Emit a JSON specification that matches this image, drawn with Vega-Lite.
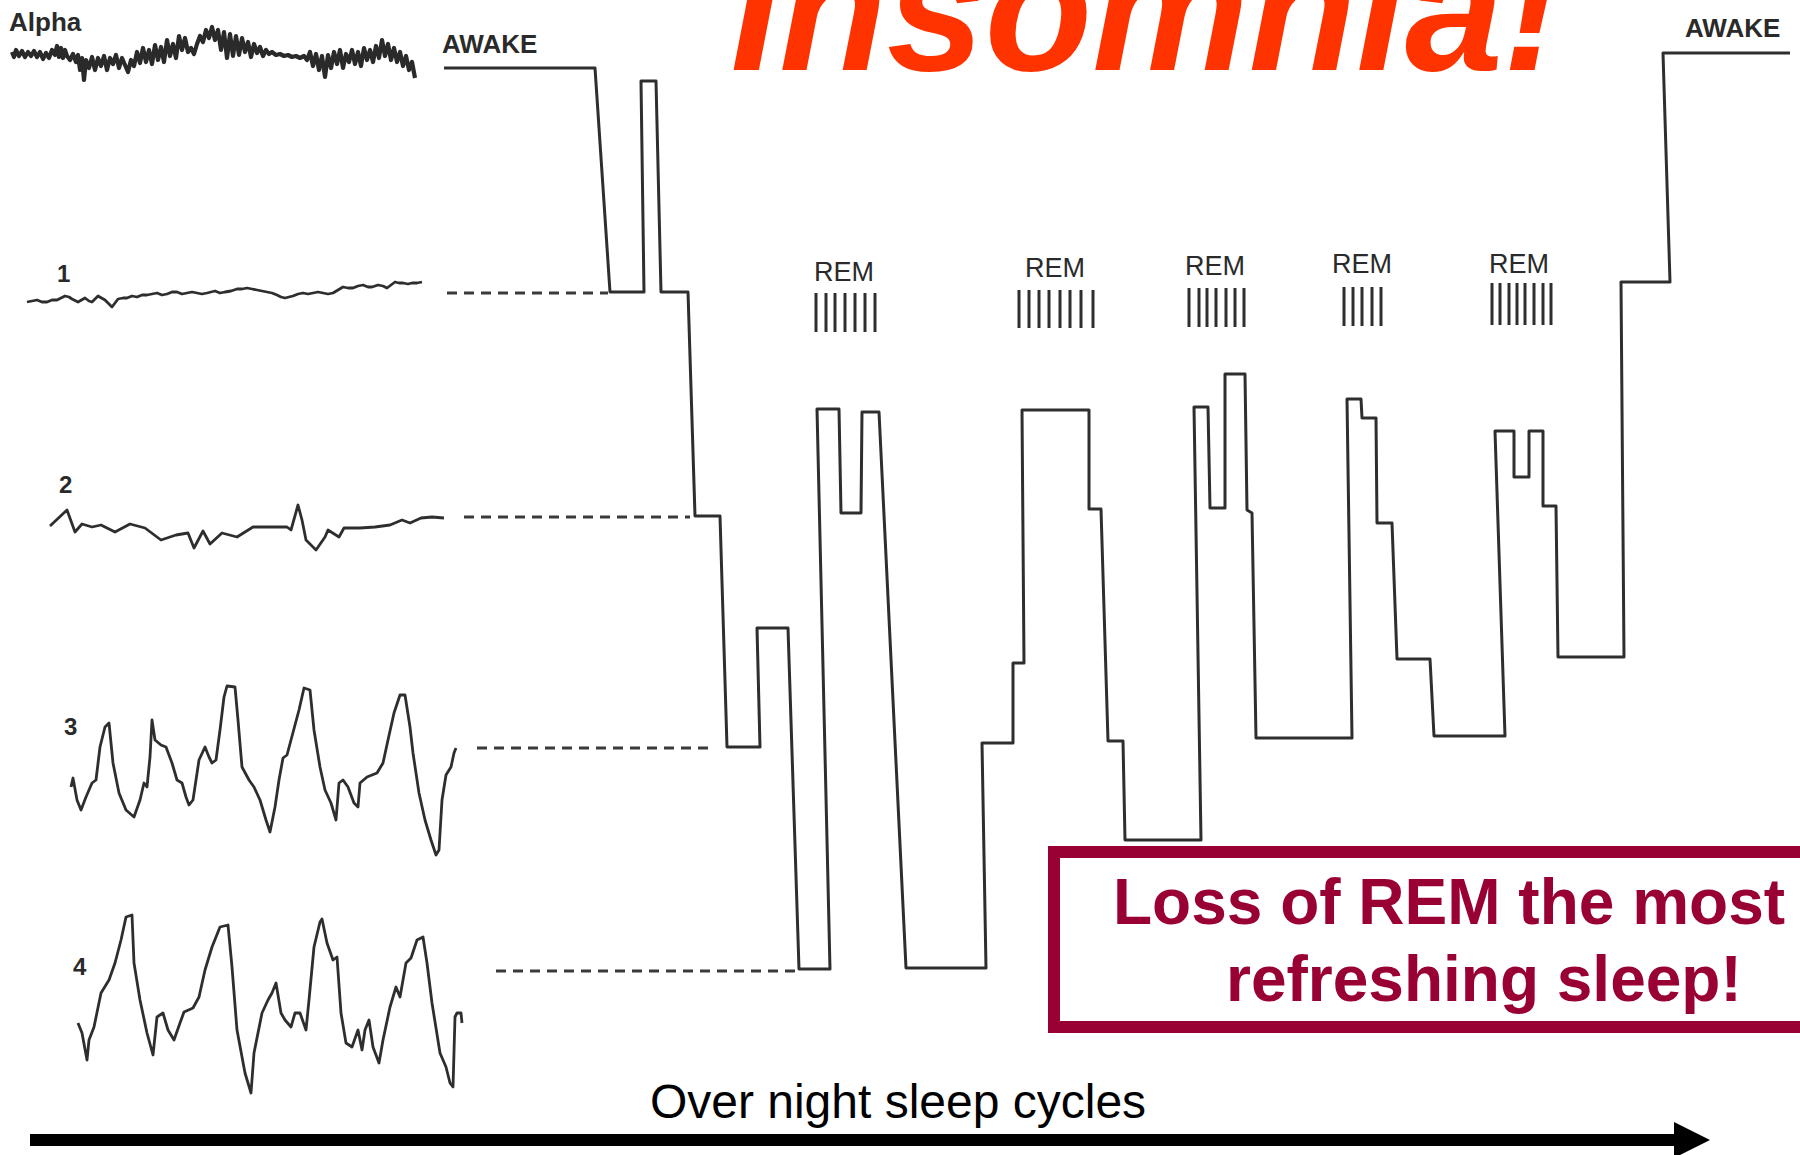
{
  "$schema": "https://vega.github.io/schema/vega-lite/v6.json",
  "width": 1800,
  "height": 1155,
  "autosize": {"type": "none"},
  "padding": 0,
  "background": "white",
  "config": {"view": {"stroke": null}},
  "encoding": {
    "x": {"field": "x", "type": "quantitative", "scale": {"domain": [0, 1800], "nice": false, "zero": false}, "axis": null},
    "y": {"field": "y", "type": "quantitative", "scale": {"domain": [0, 1155], "nice": false, "zero": false, "reverse": true}, "axis": null}
  },
  "layer": [
    {
      "data": {"values": [
        {"t": "Alpha", "x": 12, "y": 52}, {"t": "Alpha", "x": 14, "y": 57}, {"t": "Alpha", "x": 16, "y": 50}, {"t": "Alpha", "x": 19, "y": 56}, {"t": "Alpha", "x": 22, "y": 51}, {"t": "Alpha", "x": 25, "y": 57}, {"t": "Alpha", "x": 28, "y": 52}, {"t": "Alpha", "x": 31, "y": 56}, {"t": "Alpha", "x": 34, "y": 51}, {"t": "Alpha", "x": 37, "y": 57}, {"t": "Alpha", "x": 40, "y": 52}, {"t": "Alpha", "x": 43, "y": 59}, {"t": "Alpha", "x": 46, "y": 53}, {"t": "Alpha", "x": 49, "y": 58}, {"t": "Alpha", "x": 52, "y": 50}, {"t": "Alpha", "x": 55, "y": 55}, {"t": "Alpha", "x": 57, "y": 46}, {"t": "Alpha", "x": 59, "y": 57}, {"t": "Alpha", "x": 61, "y": 48}, {"t": "Alpha", "x": 63, "y": 58}, {"t": "Alpha", "x": 65, "y": 50}, {"t": "Alpha", "x": 67, "y": 56}, {"t": "Alpha", "x": 70, "y": 60}, {"t": "Alpha", "x": 73, "y": 54}, {"t": "Alpha", "x": 76, "y": 62}, {"t": "Alpha", "x": 78, "y": 55}, {"t": "Alpha", "x": 80, "y": 70}, {"t": "Alpha", "x": 82, "y": 58}, {"t": "Alpha", "x": 84, "y": 80}, {"t": "Alpha", "x": 86, "y": 60}, {"t": "Alpha", "x": 89, "y": 68}, {"t": "Alpha", "x": 92, "y": 57}, {"t": "Alpha", "x": 95, "y": 70}, {"t": "Alpha", "x": 98, "y": 58}, {"t": "Alpha", "x": 101, "y": 66}, {"t": "Alpha", "x": 104, "y": 56}, {"t": "Alpha", "x": 107, "y": 70}, {"t": "Alpha", "x": 110, "y": 58}, {"t": "Alpha", "x": 113, "y": 64}, {"t": "Alpha", "x": 116, "y": 55}, {"t": "Alpha", "x": 119, "y": 68}, {"t": "Alpha", "x": 122, "y": 58}, {"t": "Alpha", "x": 125, "y": 65}, {"t": "Alpha", "x": 128, "y": 72}, {"t": "Alpha", "x": 131, "y": 60}, {"t": "Alpha", "x": 134, "y": 66}, {"t": "Alpha", "x": 137, "y": 52}, {"t": "Alpha", "x": 140, "y": 63}, {"t": "Alpha", "x": 143, "y": 48}, {"t": "Alpha", "x": 146, "y": 62}, {"t": "Alpha", "x": 149, "y": 50}, {"t": "Alpha", "x": 152, "y": 64}, {"t": "Alpha", "x": 155, "y": 45}, {"t": "Alpha", "x": 158, "y": 60}, {"t": "Alpha", "x": 161, "y": 47}, {"t": "Alpha", "x": 164, "y": 62}, {"t": "Alpha", "x": 167, "y": 40}, {"t": "Alpha", "x": 170, "y": 56}, {"t": "Alpha", "x": 173, "y": 44}, {"t": "Alpha", "x": 176, "y": 58}, {"t": "Alpha", "x": 179, "y": 36}, {"t": "Alpha", "x": 182, "y": 50}, {"t": "Alpha", "x": 185, "y": 38}, {"t": "Alpha", "x": 188, "y": 52}, {"t": "Alpha", "x": 191, "y": 48}, {"t": "Alpha", "x": 194, "y": 54}, {"t": "Alpha", "x": 197, "y": 44}, {"t": "Alpha", "x": 200, "y": 36}, {"t": "Alpha", "x": 203, "y": 42}, {"t": "Alpha", "x": 206, "y": 30}, {"t": "Alpha", "x": 209, "y": 38}, {"t": "Alpha", "x": 212, "y": 27}, {"t": "Alpha", "x": 215, "y": 40}, {"t": "Alpha", "x": 218, "y": 30}, {"t": "Alpha", "x": 221, "y": 50}, {"t": "Alpha", "x": 224, "y": 32}, {"t": "Alpha", "x": 227, "y": 58}, {"t": "Alpha", "x": 230, "y": 34}, {"t": "Alpha", "x": 233, "y": 56}, {"t": "Alpha", "x": 236, "y": 36}, {"t": "Alpha", "x": 239, "y": 55}, {"t": "Alpha", "x": 242, "y": 38}, {"t": "Alpha", "x": 245, "y": 52}, {"t": "Alpha", "x": 248, "y": 42}, {"t": "Alpha", "x": 251, "y": 57}, {"t": "Alpha", "x": 254, "y": 44}, {"t": "Alpha", "x": 257, "y": 53}, {"t": "Alpha", "x": 260, "y": 47}, {"t": "Alpha", "x": 263, "y": 56}, {"t": "Alpha", "x": 266, "y": 50}, {"t": "Alpha", "x": 269, "y": 54}, {"t": "Alpha", "x": 272, "y": 52}, {"t": "Alpha", "x": 276, "y": 55}, {"t": "Alpha", "x": 280, "y": 54}, {"t": "Alpha", "x": 284, "y": 56}, {"t": "Alpha", "x": 288, "y": 55}, {"t": "Alpha", "x": 292, "y": 57}, {"t": "Alpha", "x": 296, "y": 56}, {"t": "Alpha", "x": 300, "y": 58}, {"t": "Alpha", "x": 304, "y": 56}, {"t": "Alpha", "x": 307, "y": 60}, {"t": "Alpha", "x": 310, "y": 52}, {"t": "Alpha", "x": 313, "y": 66}, {"t": "Alpha", "x": 316, "y": 54}, {"t": "Alpha", "x": 319, "y": 70}, {"t": "Alpha", "x": 322, "y": 56}, {"t": "Alpha", "x": 325, "y": 77}, {"t": "Alpha", "x": 328, "y": 55}, {"t": "Alpha", "x": 331, "y": 68}, {"t": "Alpha", "x": 334, "y": 52}, {"t": "Alpha", "x": 337, "y": 64}, {"t": "Alpha", "x": 340, "y": 50}, {"t": "Alpha", "x": 343, "y": 68}, {"t": "Alpha", "x": 346, "y": 54}, {"t": "Alpha", "x": 349, "y": 62}, {"t": "Alpha", "x": 352, "y": 50}, {"t": "Alpha", "x": 355, "y": 64}, {"t": "Alpha", "x": 358, "y": 52}, {"t": "Alpha", "x": 361, "y": 66}, {"t": "Alpha", "x": 364, "y": 48}, {"t": "Alpha", "x": 367, "y": 60}, {"t": "Alpha", "x": 370, "y": 50}, {"t": "Alpha", "x": 373, "y": 62}, {"t": "Alpha", "x": 376, "y": 46}, {"t": "Alpha", "x": 379, "y": 58}, {"t": "Alpha", "x": 382, "y": 40}, {"t": "Alpha", "x": 385, "y": 56}, {"t": "Alpha", "x": 388, "y": 44}, {"t": "Alpha", "x": 391, "y": 60}, {"t": "Alpha", "x": 394, "y": 48}, {"t": "Alpha", "x": 397, "y": 62}, {"t": "Alpha", "x": 400, "y": 52}, {"t": "Alpha", "x": 403, "y": 66}, {"t": "Alpha", "x": 406, "y": 56}, {"t": "Alpha", "x": 409, "y": 70}, {"t": "Alpha", "x": 412, "y": 62}, {"t": "Alpha", "x": 415, "y": 78}
      ]},
      "mark": {"type": "line", "color": "#2a2a2a", "strokeWidth": 4.2, "strokeJoin": "round"},
      "encoding": {"detail": {"field": "t"}}
    },
    {
      "data": {"values": [
        {"t": "1", "x": 27, "y": 302}, {"t": "1", "x": 32, "y": 301}, {"t": "1", "x": 37, "y": 300}, {"t": "1", "x": 42, "y": 302}, {"t": "1", "x": 47, "y": 302}, {"t": "1", "x": 52, "y": 300}, {"t": "1", "x": 57, "y": 300}, {"t": "1", "x": 61, "y": 298}, {"t": "1", "x": 65, "y": 296}, {"t": "1", "x": 69, "y": 297}, {"t": "1", "x": 72, "y": 299}, {"t": "1", "x": 78, "y": 302}, {"t": "1", "x": 85, "y": 298}, {"t": "1", "x": 89, "y": 301}, {"t": "1", "x": 92, "y": 302}, {"t": "1", "x": 98, "y": 296}, {"t": "1", "x": 105, "y": 300}, {"t": "1", "x": 112, "y": 307}, {"t": "1", "x": 118, "y": 299}, {"t": "1", "x": 123, "y": 298}, {"t": "1", "x": 127, "y": 298}, {"t": "1", "x": 132, "y": 296}, {"t": "1", "x": 137, "y": 297}, {"t": "1", "x": 142, "y": 295}, {"t": "1", "x": 147, "y": 295}, {"t": "1", "x": 152, "y": 294}, {"t": "1", "x": 157, "y": 293}, {"t": "1", "x": 162, "y": 295}, {"t": "1", "x": 167, "y": 294}, {"t": "1", "x": 172, "y": 292}, {"t": "1", "x": 177, "y": 292}, {"t": "1", "x": 182, "y": 294}, {"t": "1", "x": 187, "y": 293}, {"t": "1", "x": 192, "y": 292}, {"t": "1", "x": 197, "y": 293}, {"t": "1", "x": 202, "y": 294}, {"t": "1", "x": 207, "y": 293}, {"t": "1", "x": 215, "y": 291}, {"t": "1", "x": 220, "y": 293}, {"t": "1", "x": 225, "y": 292}, {"t": "1", "x": 231, "y": 291}, {"t": "1", "x": 237, "y": 289}, {"t": "1", "x": 242, "y": 289}, {"t": "1", "x": 247, "y": 288}, {"t": "1", "x": 252, "y": 289}, {"t": "1", "x": 257, "y": 290}, {"t": "1", "x": 262, "y": 291}, {"t": "1", "x": 267, "y": 292}, {"t": "1", "x": 272, "y": 293}, {"t": "1", "x": 277, "y": 295}, {"t": "1", "x": 281, "y": 297}, {"t": "1", "x": 285, "y": 298}, {"t": "1", "x": 289, "y": 297}, {"t": "1", "x": 293, "y": 296}, {"t": "1", "x": 298, "y": 294}, {"t": "1", "x": 303, "y": 293}, {"t": "1", "x": 308, "y": 294}, {"t": "1", "x": 313, "y": 293}, {"t": "1", "x": 318, "y": 292}, {"t": "1", "x": 323, "y": 293}, {"t": "1", "x": 328, "y": 294}, {"t": "1", "x": 333, "y": 293}, {"t": "1", "x": 338, "y": 290}, {"t": "1", "x": 343, "y": 287}, {"t": "1", "x": 348, "y": 288}, {"t": "1", "x": 353, "y": 288}, {"t": "1", "x": 358, "y": 286}, {"t": "1", "x": 363, "y": 285}, {"t": "1", "x": 368, "y": 287}, {"t": "1", "x": 372, "y": 287}, {"t": "1", "x": 378, "y": 285}, {"t": "1", "x": 383, "y": 286}, {"t": "1", "x": 387, "y": 288}, {"t": "1", "x": 391, "y": 285}, {"t": "1", "x": 395, "y": 282}, {"t": "1", "x": 399, "y": 283}, {"t": "1", "x": 403, "y": 283}, {"t": "1", "x": 408, "y": 284}, {"t": "1", "x": 412, "y": 283}, {"t": "1", "x": 417, "y": 283}, {"t": "1", "x": 422, "y": 282},
        {"t": "2", "x": 50, "y": 526}, {"t": "2", "x": 67, "y": 510}, {"t": "2", "x": 75, "y": 532}, {"t": "2", "x": 82, "y": 524}, {"t": "2", "x": 92, "y": 527}, {"t": "2", "x": 101, "y": 525}, {"t": "2", "x": 115, "y": 532}, {"t": "2", "x": 130, "y": 524}, {"t": "2", "x": 145, "y": 528}, {"t": "2", "x": 161, "y": 540}, {"t": "2", "x": 176, "y": 535}, {"t": "2", "x": 188, "y": 533}, {"t": "2", "x": 194, "y": 548}, {"t": "2", "x": 203, "y": 531}, {"t": "2", "x": 210, "y": 544}, {"t": "2", "x": 222, "y": 533}, {"t": "2", "x": 237, "y": 537}, {"t": "2", "x": 253, "y": 527}, {"t": "2", "x": 268, "y": 527}, {"t": "2", "x": 287, "y": 527}, {"t": "2", "x": 291, "y": 530}, {"t": "2", "x": 298, "y": 505}, {"t": "2", "x": 302, "y": 520}, {"t": "2", "x": 306, "y": 540}, {"t": "2", "x": 316, "y": 550}, {"t": "2", "x": 325, "y": 537}, {"t": "2", "x": 328, "y": 530}, {"t": "2", "x": 339, "y": 537}, {"t": "2", "x": 344, "y": 528}, {"t": "2", "x": 360, "y": 528}, {"t": "2", "x": 375, "y": 527}, {"t": "2", "x": 390, "y": 525}, {"t": "2", "x": 402, "y": 520}, {"t": "2", "x": 410, "y": 523}, {"t": "2", "x": 421, "y": 518}, {"t": "2", "x": 432, "y": 517}, {"t": "2", "x": 444, "y": 518},
        {"t": "3", "x": 71, "y": 787}, {"t": "3", "x": 73, "y": 778}, {"t": "3", "x": 77, "y": 800}, {"t": "3", "x": 81, "y": 810}, {"t": "3", "x": 86, "y": 797}, {"t": "3", "x": 92, "y": 783}, {"t": "3", "x": 96, "y": 780}, {"t": "3", "x": 100, "y": 747}, {"t": "3", "x": 105, "y": 727}, {"t": "3", "x": 109, "y": 723}, {"t": "3", "x": 113, "y": 763}, {"t": "3", "x": 119, "y": 793}, {"t": "3", "x": 126, "y": 810}, {"t": "3", "x": 134, "y": 817}, {"t": "3", "x": 140, "y": 800}, {"t": "3", "x": 144, "y": 783}, {"t": "3", "x": 147, "y": 787}, {"t": "3", "x": 150, "y": 757}, {"t": "3", "x": 152, "y": 720}, {"t": "3", "x": 155, "y": 740}, {"t": "3", "x": 161, "y": 745}, {"t": "3", "x": 166, "y": 747}, {"t": "3", "x": 172, "y": 763}, {"t": "3", "x": 177, "y": 780}, {"t": "3", "x": 182, "y": 783}, {"t": "3", "x": 186, "y": 797}, {"t": "3", "x": 189, "y": 805}, {"t": "3", "x": 193, "y": 800}, {"t": "3", "x": 199, "y": 760}, {"t": "3", "x": 205, "y": 747}, {"t": "3", "x": 209, "y": 757}, {"t": "3", "x": 212, "y": 763}, {"t": "3", "x": 216, "y": 760}, {"t": "3", "x": 220, "y": 730}, {"t": "3", "x": 224, "y": 697}, {"t": "3", "x": 227, "y": 686}, {"t": "3", "x": 235, "y": 687}, {"t": "3", "x": 238, "y": 720}, {"t": "3", "x": 242, "y": 767}, {"t": "3", "x": 249, "y": 780}, {"t": "3", "x": 254, "y": 787}, {"t": "3", "x": 260, "y": 800}, {"t": "3", "x": 266, "y": 820}, {"t": "3", "x": 270, "y": 832}, {"t": "3", "x": 275, "y": 807}, {"t": "3", "x": 279, "y": 780}, {"t": "3", "x": 283, "y": 758}, {"t": "3", "x": 287, "y": 755}, {"t": "3", "x": 291, "y": 740}, {"t": "3", "x": 299, "y": 710}, {"t": "3", "x": 304, "y": 688}, {"t": "3", "x": 310, "y": 690}, {"t": "3", "x": 314, "y": 730}, {"t": "3", "x": 320, "y": 767}, {"t": "3", "x": 325, "y": 790}, {"t": "3", "x": 331, "y": 803}, {"t": "3", "x": 336, "y": 820}, {"t": "3", "x": 339, "y": 783}, {"t": "3", "x": 343, "y": 780}, {"t": "3", "x": 348, "y": 787}, {"t": "3", "x": 354, "y": 803}, {"t": "3", "x": 358, "y": 807}, {"t": "3", "x": 360, "y": 783}, {"t": "3", "x": 367, "y": 777}, {"t": "3", "x": 377, "y": 773}, {"t": "3", "x": 383, "y": 763}, {"t": "3", "x": 388, "y": 740}, {"t": "3", "x": 394, "y": 713}, {"t": "3", "x": 400, "y": 695}, {"t": "3", "x": 405, "y": 695}, {"t": "3", "x": 410, "y": 727}, {"t": "3", "x": 413, "y": 753}, {"t": "3", "x": 419, "y": 793}, {"t": "3", "x": 425, "y": 820}, {"t": "3", "x": 431, "y": 840}, {"t": "3", "x": 436, "y": 855}, {"t": "3", "x": 439, "y": 850}, {"t": "3", "x": 442, "y": 800}, {"t": "3", "x": 446, "y": 775}, {"t": "3", "x": 451, "y": 767}, {"t": "3", "x": 454, "y": 753}, {"t": "3", "x": 456, "y": 748},
        {"t": "4", "x": 78, "y": 1023}, {"t": "4", "x": 82, "y": 1033}, {"t": "4", "x": 87, "y": 1060}, {"t": "4", "x": 89, "y": 1040}, {"t": "4", "x": 94, "y": 1027}, {"t": "4", "x": 101, "y": 993}, {"t": "4", "x": 109, "y": 980}, {"t": "4", "x": 115, "y": 963}, {"t": "4", "x": 121, "y": 940}, {"t": "4", "x": 126, "y": 917}, {"t": "4", "x": 132, "y": 915}, {"t": "4", "x": 134, "y": 963}, {"t": "4", "x": 140, "y": 1000}, {"t": "4", "x": 147, "y": 1033}, {"t": "4", "x": 153, "y": 1055}, {"t": "4", "x": 157, "y": 1017}, {"t": "4", "x": 163, "y": 1013}, {"t": "4", "x": 168, "y": 1030}, {"t": "4", "x": 174, "y": 1040}, {"t": "4", "x": 180, "y": 1023}, {"t": "4", "x": 184, "y": 1012}, {"t": "4", "x": 193, "y": 1008}, {"t": "4", "x": 199, "y": 997}, {"t": "4", "x": 205, "y": 970}, {"t": "4", "x": 212, "y": 947}, {"t": "4", "x": 220, "y": 927}, {"t": "4", "x": 228, "y": 925}, {"t": "4", "x": 232, "y": 967}, {"t": "4", "x": 237, "y": 1030}, {"t": "4", "x": 245, "y": 1073}, {"t": "4", "x": 251, "y": 1093}, {"t": "4", "x": 254, "y": 1053}, {"t": "4", "x": 262, "y": 1013}, {"t": "4", "x": 268, "y": 1000}, {"t": "4", "x": 272, "y": 993}, {"t": "4", "x": 276, "y": 983}, {"t": "4", "x": 281, "y": 1013}, {"t": "4", "x": 285, "y": 1020}, {"t": "4", "x": 291, "y": 1027}, {"t": "4", "x": 295, "y": 1013}, {"t": "4", "x": 300, "y": 1013}, {"t": "4", "x": 306, "y": 1030}, {"t": "4", "x": 309, "y": 1000}, {"t": "4", "x": 314, "y": 947}, {"t": "4", "x": 320, "y": 922}, {"t": "4", "x": 322, "y": 919}, {"t": "4", "x": 327, "y": 943}, {"t": "4", "x": 333, "y": 960}, {"t": "4", "x": 337, "y": 957}, {"t": "4", "x": 341, "y": 1013}, {"t": "4", "x": 346, "y": 1043}, {"t": "4", "x": 352, "y": 1047}, {"t": "4", "x": 358, "y": 1030}, {"t": "4", "x": 362, "y": 1050}, {"t": "4", "x": 365, "y": 1030}, {"t": "4", "x": 369, "y": 1020}, {"t": "4", "x": 373, "y": 1047}, {"t": "4", "x": 379, "y": 1063}, {"t": "4", "x": 383, "y": 1040}, {"t": "4", "x": 390, "y": 1007}, {"t": "4", "x": 396, "y": 987}, {"t": "4", "x": 400, "y": 997}, {"t": "4", "x": 406, "y": 963}, {"t": "4", "x": 411, "y": 958}, {"t": "4", "x": 417, "y": 940}, {"t": "4", "x": 423, "y": 937}, {"t": "4", "x": 427, "y": 963}, {"t": "4", "x": 432, "y": 1003}, {"t": "4", "x": 440, "y": 1053}, {"t": "4", "x": 446, "y": 1067}, {"t": "4", "x": 450, "y": 1083}, {"t": "4", "x": 453, "y": 1087}, {"t": "4", "x": 455, "y": 1017}, {"t": "4", "x": 457, "y": 1013}, {"t": "4", "x": 461, "y": 1013}, {"t": "4", "x": 462, "y": 1023}
      ]},
      "mark": {"type": "line", "color": "#2e2e2e", "strokeWidth": 2.8, "strokeJoin": "round"},
      "encoding": {"detail": {"field": "t"}}
    },
    {
      "data": {"values": [
        {"stage": "1", "x": 447, "x2": 608, "y": 293},
        {"stage": "2", "x": 464, "x2": 690, "y": 517},
        {"stage": "3", "x": 477, "x2": 714, "y": 748},
        {"stage": "4", "x": 496, "x2": 796, "y": 971}
      ]},
      "mark": {"type": "rule", "color": "#3a3a3a", "strokeWidth": 3, "strokeDash": [10, 7]},
      "encoding": {"x2": {"field": "x2"}}
    },
    {
      "data": {"values": [
        {"i": 1, "x": 444, "y": 68}, {"i": 2, "x": 595, "y": 68}, {"i": 3, "x": 610, "y": 292}, {"i": 4, "x": 644, "y": 292}, {"i": 5, "x": 641, "y": 81}, {"i": 6, "x": 656, "y": 81}, {"i": 7, "x": 661, "y": 292}, {"i": 8, "x": 688, "y": 292}, {"i": 9, "x": 695, "y": 516}, {"i": 10, "x": 720, "y": 516},
        {"i": 11, "x": 727, "y": 747}, {"i": 12, "x": 760, "y": 747}, {"i": 13, "x": 757, "y": 628}, {"i": 14, "x": 788, "y": 628}, {"i": 15, "x": 799, "y": 969}, {"i": 16, "x": 830, "y": 969}, {"i": 17, "x": 817, "y": 409}, {"i": 18, "x": 839, "y": 409}, {"i": 19, "x": 841, "y": 513}, {"i": 20, "x": 861, "y": 513},
        {"i": 21, "x": 862, "y": 412}, {"i": 22, "x": 879, "y": 412}, {"i": 23, "x": 906, "y": 968}, {"i": 24, "x": 986, "y": 968}, {"i": 25, "x": 982, "y": 743}, {"i": 26, "x": 1013, "y": 743}, {"i": 27, "x": 1013, "y": 663}, {"i": 28, "x": 1024, "y": 663}, {"i": 29, "x": 1022, "y": 410}, {"i": 30, "x": 1089, "y": 410},
        {"i": 31, "x": 1089, "y": 509}, {"i": 32, "x": 1101, "y": 509}, {"i": 33, "x": 1108, "y": 741}, {"i": 34, "x": 1123, "y": 741}, {"i": 35, "x": 1125, "y": 840}, {"i": 36, "x": 1201, "y": 840}, {"i": 37, "x": 1194, "y": 407}, {"i": 38, "x": 1208, "y": 407}, {"i": 39, "x": 1210, "y": 508}, {"i": 40, "x": 1225, "y": 508},
        {"i": 41, "x": 1225, "y": 374}, {"i": 42, "x": 1245, "y": 374}, {"i": 43, "x": 1247, "y": 510}, {"i": 44, "x": 1252, "y": 513}, {"i": 45, "x": 1256, "y": 738}, {"i": 46, "x": 1352, "y": 738}, {"i": 47, "x": 1347, "y": 399}, {"i": 48, "x": 1361, "y": 399}, {"i": 49, "x": 1362, "y": 418}, {"i": 50, "x": 1376, "y": 418},
        {"i": 51, "x": 1377, "y": 523}, {"i": 52, "x": 1392, "y": 523}, {"i": 53, "x": 1397, "y": 659}, {"i": 54, "x": 1430, "y": 659}, {"i": 55, "x": 1434, "y": 736}, {"i": 56, "x": 1505, "y": 736}, {"i": 57, "x": 1495, "y": 431}, {"i": 58, "x": 1514, "y": 431}, {"i": 59, "x": 1514, "y": 477}, {"i": 60, "x": 1529, "y": 477},
        {"i": 61, "x": 1529, "y": 431}, {"i": 62, "x": 1543, "y": 431}, {"i": 63, "x": 1543, "y": 506}, {"i": 64, "x": 1556, "y": 506}, {"i": 65, "x": 1558, "y": 657}, {"i": 66, "x": 1624, "y": 657}, {"i": 67, "x": 1621, "y": 282}, {"i": 68, "x": 1670, "y": 282}, {"i": 69, "x": 1663, "y": 53}, {"i": 70, "x": 1790, "y": 53}
      ]},
      "mark": {"type": "line", "color": "#2e2e2e", "strokeWidth": 3, "strokeJoin": "round"},
      "encoding": {"order": {"field": "i", "type": "quantitative"}}
    },
    {
      "data": {"values": [
        {"rem": 1, "x": 816, "y": 293, "y2": 332}, {"rem": 1, "x": 826, "y": 293, "y2": 332}, {"rem": 1, "x": 835, "y": 293, "y2": 332}, {"rem": 1, "x": 845, "y": 293, "y2": 332}, {"rem": 1, "x": 855, "y": 293, "y2": 332}, {"rem": 1, "x": 865, "y": 293, "y2": 332}, {"rem": 1, "x": 875, "y": 293, "y2": 332},
        {"rem": 2, "x": 1019, "y": 290, "y2": 328}, {"rem": 2, "x": 1029, "y": 290, "y2": 328}, {"rem": 2, "x": 1039, "y": 290, "y2": 328}, {"rem": 2, "x": 1049, "y": 290, "y2": 328}, {"rem": 2, "x": 1060, "y": 290, "y2": 328}, {"rem": 2, "x": 1070, "y": 290, "y2": 328}, {"rem": 2, "x": 1081, "y": 290, "y2": 328}, {"rem": 2, "x": 1093, "y": 290, "y2": 328},
        {"rem": 3, "x": 1189, "y": 288, "y2": 327}, {"rem": 3, "x": 1199, "y": 288, "y2": 327}, {"rem": 3, "x": 1207, "y": 288, "y2": 327}, {"rem": 3, "x": 1216, "y": 288, "y2": 327}, {"rem": 3, "x": 1226, "y": 288, "y2": 327}, {"rem": 3, "x": 1235, "y": 288, "y2": 327}, {"rem": 3, "x": 1244, "y": 288, "y2": 327},
        {"rem": 4, "x": 1344, "y": 287, "y2": 326}, {"rem": 4, "x": 1353, "y": 287, "y2": 326}, {"rem": 4, "x": 1362, "y": 287, "y2": 326}, {"rem": 4, "x": 1372, "y": 287, "y2": 326}, {"rem": 4, "x": 1381, "y": 287, "y2": 326},
        {"rem": 5, "x": 1492, "y": 283, "y2": 325}, {"rem": 5, "x": 1500, "y": 283, "y2": 325}, {"rem": 5, "x": 1509, "y": 283, "y2": 325}, {"rem": 5, "x": 1517, "y": 283, "y2": 325}, {"rem": 5, "x": 1525, "y": 283, "y2": 325}, {"rem": 5, "x": 1534, "y": 283, "y2": 325}, {"rem": 5, "x": 1543, "y": 283, "y2": 325}, {"rem": 5, "x": 1551, "y": 283, "y2": 325}
      ]},
      "mark": {"type": "rule", "color": "#2e2e2e", "strokeWidth": 3},
      "encoding": {"y2": {"field": "y2"}}
    },
    {
      "data": {"values": [
        {"label": "REM", "x": 844, "y": 281},
        {"label": "REM", "x": 1055, "y": 277},
        {"label": "REM", "x": 1215, "y": 275},
        {"label": "REM", "x": 1362, "y": 273},
        {"label": "REM", "x": 1519, "y": 273}
      ]},
      "mark": {"type": "text", "font": "Liberation Sans", "fontSize": 27, "align": "center", "baseline": "alphabetic", "color": "#2a2a2a"},
      "encoding": {"text": {"field": "label"}}
    },
    {
      "data": {"values": [
        {"label": "Alpha", "x": 9, "y": 31},
        {"label": "AWAKE", "x": 442, "y": 53},
        {"label": "AWAKE", "x": 1685, "y": 37}
      ]},
      "mark": {"type": "text", "font": "Liberation Sans", "fontSize": 26, "fontWeight": "bold", "align": "left", "baseline": "alphabetic", "color": "#2a2a2a"},
      "encoding": {"text": {"field": "label"}}
    },
    {
      "data": {"values": [
        {"label": "1", "x": 57, "y": 282},
        {"label": "2", "x": 59, "y": 493},
        {"label": "3", "x": 64, "y": 735},
        {"label": "4", "x": 73, "y": 975}
      ]},
      "mark": {"type": "text", "font": "Liberation Sans", "fontSize": 24, "fontWeight": "bold", "align": "left", "baseline": "alphabetic", "color": "#2a2a2a"},
      "encoding": {"text": {"field": "label"}}
    },
    {
      "data": {"values": [{"label": "Insomnia!", "x": 1146, "y": 70}]},
      "mark": {"type": "text", "font": "Liberation Sans", "fontSize": 176, "fontWeight": "bold", "fontStyle": "italic", "align": "center", "baseline": "alphabetic", "color": "#FF3300"},
      "encoding": {"text": {"field": "label"}}
    },
    {
      "data": {"values": [{"x": 1054, "x2": 1830, "y": 852, "y2": 1027}]},
      "mark": {"type": "rect", "filled": false, "color": "#990033", "strokeWidth": 12},
      "encoding": {"x2": {"field": "x2"}, "y2": {"field": "y2"}}
    },
    {
      "data": {"values": [
        {"label": "Loss of REM the most", "x": 1113, "y": 924},
        {"label": "refreshing sleep!", "x": 1226, "y": 1001}
      ]},
      "mark": {"type": "text", "font": "Liberation Sans", "fontSize": 64, "fontWeight": "bold", "align": "left", "baseline": "alphabetic", "color": "#990033"},
      "encoding": {"text": {"field": "label"}}
    },
    {
      "data": {"values": [{"label": "Over night sleep cycles", "x": 898, "y": 1118}]},
      "mark": {"type": "text", "font": "Liberation Sans", "fontSize": 48, "align": "center", "baseline": "alphabetic", "color": "black"},
      "encoding": {"text": {"field": "label"}}
    },
    {
      "data": {"values": [{"x": 30, "x2": 1678, "y": 1140}]},
      "mark": {"type": "rule", "color": "black", "strokeWidth": 12, "strokeCap": "butt"},
      "encoding": {"x2": {"field": "x2"}}
    },
    {
      "data": {"values": [{"x": 1692, "y": 1140}]},
      "mark": {"type": "point", "shape": "M-1,-1L1,0L-1,1Z", "size": 1296, "filled": true, "color": "black", "opacity": 1, "strokeWidth": 0}
    }
  ]
}
